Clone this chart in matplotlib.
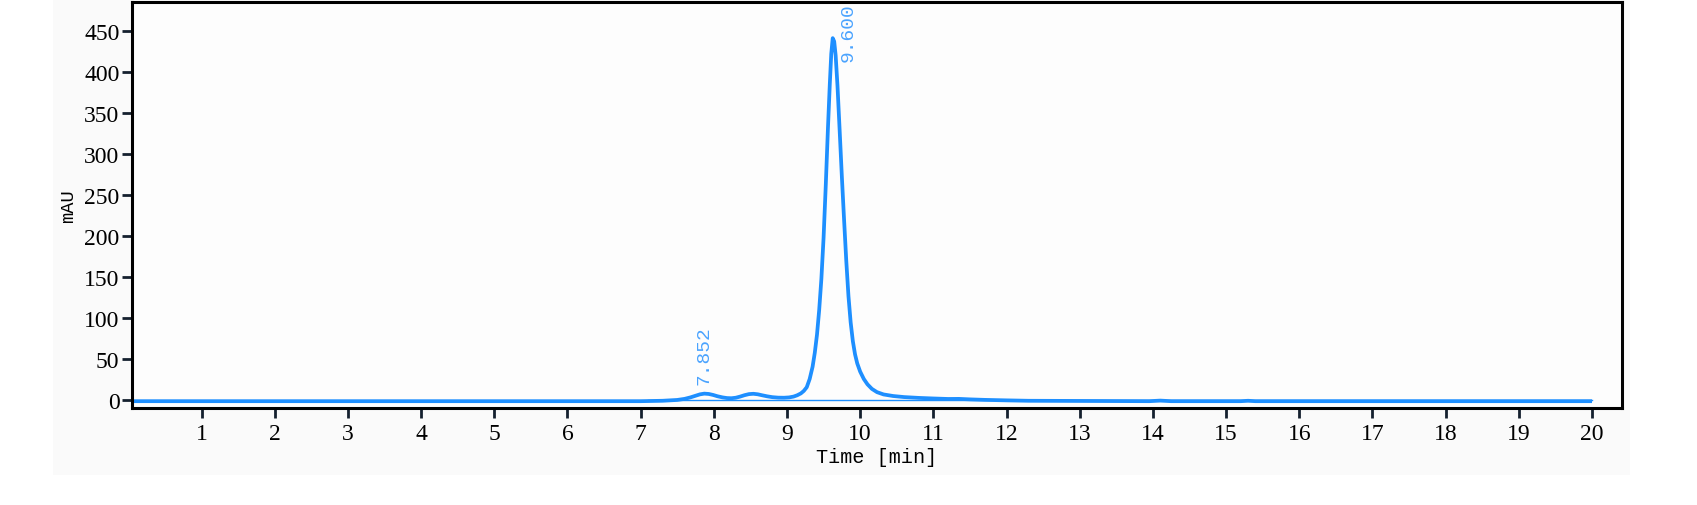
import matplotlib
matplotlib.use('Agg')
import matplotlib.pyplot as plt
from matplotlib.patches import Rectangle

# chromatogram (time in min, signal in mAU)
time_min = [0.0, 7.0, 7.3, 7.5, 7.6, 7.68, 7.75, 7.81, 7.87, 7.93, 7.99,
            8.05, 8.12, 8.18, 8.24, 8.3, 8.36, 8.42, 8.48, 8.54, 8.6, 8.66,
            8.73, 8.8, 8.88, 8.96, 9.03, 9.09, 9.14, 9.19, 9.23, 9.27, 9.31,
            9.35, 9.38, 9.41, 9.44, 9.47, 9.5, 9.53, 9.56, 9.585, 9.605,
            9.625, 9.645, 9.665, 9.69, 9.72, 9.75, 9.78, 9.81, 9.84, 9.87,
            9.9, 9.93, 9.96, 10.0, 10.05, 10.1, 10.16, 10.23, 10.32, 10.45,
            10.6, 10.8, 11.0, 11.2, 11.35, 11.5, 11.7, 12.0, 12.3, 13.95,
            14.1, 14.25, 15.2, 15.3, 15.4, 20.0]
signal_mau = [-1.0, -1.0, -0.5, 0.5, 1.8, 3.6, 5.6, 7.3, 8.2, 7.8, 6.6,
              5.0, 3.6, 2.8, 2.6, 3.2, 4.6, 6.3, 7.6, 8.0, 7.4, 6.2,
              4.9, 3.9, 3.3, 3.2, 3.6, 4.6, 6.2, 8.5, 11.5, 16.0, 26.0,
              41.0, 58.0, 80.0, 110.0, 148.0, 198.0, 262.0, 332.0, 385.0, 422.0,
              441.0, 437.0, 420.0, 383.0, 328.0, 272.0, 220.0, 170.0, 127.0, 95.0,
              72.0, 56.0, 45.0, 35.0, 26.0, 19.5, 14.0, 10.0, 7.2, 5.3,
              4.0, 3.0, 2.3, 1.7, 1.8, 1.2, 0.6, 0.0, -0.5, -1.0,
              -0.3, -1.0, -1.0, -0.5, -1.0, -1.0]

baseline_x = [7.1, 20.0]
baseline_y = [0.0, 0.0]

peak_labels = ['7.852', '9.600']
label_x = [7.866, 9.84]
label_y = [20.0, 413.0]

x_ticks = list(range(1, 21))
y_ticks = list(range(0, 451, 50))

LINE_COLOR = '#1e8fff'
LABEL_COLOR = '#4aa3ff'
TICK_COLOR = '#14202e'

fig = plt.figure(figsize=(16.97, 5.06), dpi=100, facecolor='white')
fig.patches.append(Rectangle((53 / 1697, 1 - 476 / 506), (1630 - 53) / 1697, 476 / 506,
                             transform=fig.transFigure, facecolor='#fafafa',
                             edgecolor='none', zorder=-10))

ax = fig.add_axes([132 / 1697, 1 - 409 / 506, (1622 - 132) / 1697, (409 - 3) / 506])
ax.set_facecolor('#fdfdfd')

ax.plot(baseline_x, baseline_y, color=LINE_COLOR, linewidth=1.0)
ax.plot(time_min, signal_mau, color=LINE_COLOR, linewidth=2.7,
        solid_joinstyle='round', solid_capstyle='butt')

for txt, tx, ty in zip(peak_labels, label_x, label_y):
    ax.text(tx, ty, txt, rotation=90, ha='center', va='bottom', color=LABEL_COLOR,
            fontsize=14, family='Liberation Mono')

ax.set_xlim(0.05, 20.41)
ax.set_ylim(-9.3, 485)
ax.set_xticks(x_ticks)
ax.set_yticks(y_ticks)

for lbl in ax.get_xticklabels() + ax.get_yticklabels():
    lbl.set_family('Liberation Serif')
    lbl.set_fontsize(17)

ax.tick_params(direction='out', length=7, width=2, color=TICK_COLOR)
ax.tick_params(axis='y', pad=2)
ax.tick_params(axis='x', pad=4)
for sp in ax.spines.values():
    sp.set_linewidth(2.2)
    sp.set_color('black')

ax.set_xlabel('Time [min]', family='Liberation Mono', fontsize=14.5, labelpad=2)
ax.set_ylabel('mAU', family='Liberation Mono', fontsize=13.5, labelpad=5)

fig.savefig('out.png', dpi=100, facecolor='white')
